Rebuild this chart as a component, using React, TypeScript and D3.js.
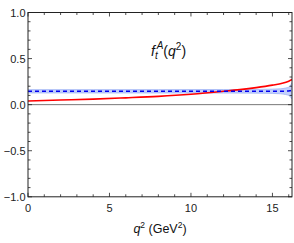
import React, { useRef, useEffect } from 'react'
import * as d3 from 'd3'

// red curve (central form factor)
const redQ2 = [0, 2, 4, 6, 8, 10, 12, 13, 14, 15, 15.6, 16, 16.2]
const redF = [0.04, 0.05, 0.06, 0.074, 0.09, 0.113, 0.145, 0.163, 0.185, 0.212, 0.232, 0.255, 0.272]

// blue dashed line with uncertainty band
const blueQ2 = [0, 4, 8, 12, 14, 15, 15.5, 15.8, 16, 16.1, 16.2]
const blueF = [0.145, 0.145, 0.145, 0.145, 0.145, 0.145, 0.146, 0.147, 0.149, 0.152, 0.155]
const blueLo = [0.127, 0.127, 0.127, 0.126, 0.125, 0.122, 0.118, 0.11, 0.1, 0.085, 0.06]
const blueHi = [0.163, 0.163, 0.163, 0.164, 0.165, 0.168, 0.172, 0.18, 0.19, 0.205, 0.24]

const xMajor = [0, 5, 10, 15]
const yMajor = [-1, -0.5, 0, 0.5, 1]
const yLabels = ['−1.0', '−0.5', '0.0', '0.5', '1.0']

export default function App() {
  const svgRef = useRef<SVGSVGElement | null>(null)
  const width = 294
  const height = 243

  useEffect(() => {
    if (!svgRef.current) return
    const svg = d3.select(svgRef.current)
    svg.selectAll('*').remove()

    const x = d3.scaleLinear().domain([0, 16.2]).range([28, 292])
    const y = d3.scaleLinear().domain([-1, 1]).range([196.8, 12.5])
    const font = 'Liberation Sans, Arial, sans-serif'
    const axisColor = '#222'

    const clipId = 'plotclip'
    svg.append('clipPath').attr('id', clipId)
      .append('rect')
      .attr('x', x(0)).attr('y', y(1))
      .attr('width', x(16.2) - x(0)).attr('height', y(-1) - y(1))

    const plot = svg.append('g').attr('clip-path', `url(#${clipId})`)

    // zero line
    plot.append('line')
      .attr('x1', x(0)).attr('x2', x(16.2))
      .attr('y1', y(0)).attr('y2', y(0))
      .attr('stroke', '#777').attr('stroke-width', 1)

    const bandData = blueQ2.map((q, i) => ({ q, lo: blueLo[i], hi: blueHi[i], c: blueF[i] }))
    const area = d3.area<any>().x(d => x(d.q)).y0(d => y(d.lo)).y1(d => y(d.hi)).curve(d3.curveMonotoneX)
    plot.append('path').datum(bandData)
      .attr('d', area)
      .attr('fill', 'rgb(185,200,250)').attr('fill-opacity', 0.85)
    const edge = (key: 'lo' | 'hi') =>
      d3.line<any>().x(d => x(d.q)).y(d => y(d[key])).curve(d3.curveMonotoneX)
    ;(['lo', 'hi'] as const).forEach(k => {
      plot.append('path').datum(bandData)
        .attr('d', edge(k))
        .attr('fill', 'none').attr('stroke', 'rgb(160,180,245)').attr('stroke-width', 0.8)
    })

    const redData = redQ2.map((q, i) => ({ q, v: redF[i] }))
    plot.append('path').datum(redData)
      .attr('d', d3.line<any>().x(d => x(d.q)).y(d => y(d.v)).curve(d3.curveMonotoneX))
      .attr('fill', 'none').attr('stroke', '#f00').attr('stroke-width', 1.6)

    plot.append('path').datum(bandData)
      .attr('d', d3.line<any>().x(d => x(d.q)).y(d => y(d.c)).curve(d3.curveMonotoneX))
      .attr('fill', 'none').attr('stroke', '#0000ee').attr('stroke-width', 1.5)
      .attr('stroke-dasharray', '4,3')

    // frame
    svg.append('rect')
      .attr('x', x(0)).attr('y', y(1))
      .attr('width', x(16.2) - x(0)).attr('height', y(-1) - y(1))
      .attr('fill', 'none').attr('stroke', axisColor).attr('stroke-width', 1)

    // ticks (inward, mirrored)
    const ticks = svg.append('g').attr('stroke', axisColor).attr('stroke-width', 0.8)
    d3.range(0, 17, 1).forEach(v => {
      const len = v % 5 === 0 ? 4 : 2.5
      ticks.append('line').attr('x1', x(v)).attr('x2', x(v)).attr('y1', y(-1)).attr('y2', y(-1) - len)
      ticks.append('line').attr('x1', x(v)).attr('x2', x(v)).attr('y1', y(1)).attr('y2', y(1) + len)
    })
    d3.range(-10, 11, 1).forEach(k => {
      const v = k / 10
      const len = k % 5 === 0 ? 4 : 2.5
      ticks.append('line').attr('x1', x(0)).attr('x2', x(0) + len).attr('y1', y(v)).attr('y2', y(v))
      ticks.append('line').attr('x1', x(16.2)).attr('x2', x(16.2) - len).attr('y1', y(v)).attr('y2', y(v))
    })

    // tick labels
    yMajor.forEach((v, i) => {
      svg.append('text')
        .attr('x', 25.5).attr('y', y(v) + 4)
        .attr('text-anchor', 'end')
        .attr('font-family', font).attr('font-size', 11).attr('fill', axisColor)
        .text(yLabels[i])
    })
    xMajor.forEach(v => {
      svg.append('text')
        .attr('x', x(v)).attr('y', 212)
        .attr('text-anchor', 'middle')
        .attr('font-family', font).attr('font-size', 11).attr('fill', axisColor)
        .text(String(v))
    })

    // axis title
    const xt = svg.append('text')
      .attr('x', 160).attr('y', 233)
      .attr('text-anchor', 'middle')
      .attr('font-family', font).attr('font-size', 12.5).attr('fill', '#111')
    xt.append('tspan').attr('font-style', 'italic').text('q')
    xt.append('tspan').attr('font-size', 8.5).attr('dy', -5).text('2')
    xt.append('tspan').attr('dy', 5).text(' (GeV')
    xt.append('tspan').attr('font-size', 8.5).attr('dy', -5).text('2')
    xt.append('tspan').attr('dy', 5).text(')')

    // inset label
    const tt = svg.append('text')
      .attr('x', 151).attr('y', 56)
      .attr('font-family', font).attr('font-size', 14).attr('fill', '#111')
    tt.append('tspan').attr('font-style', 'italic').text('f')
    tt.append('tspan').attr('font-style', 'italic').attr('font-size', 10).attr('dy', 3).text('t')
    tt.append('tspan').attr('font-style', 'italic').attr('font-size', 10).attr('dy', -10).attr('dx', -1).text('A')
    tt.append('tspan').attr('dy', 7).text('(')
    tt.append('tspan').attr('font-style', 'italic').text('q')
    tt.append('tspan').attr('font-size', 10).attr('dy', -6).text('2')
    tt.append('tspan').attr('dy', 6).text(')')
  }, [])

  return (
    <svg
      ref={svgRef}
      width={width}
      height={height}
      style={{ position: 'absolute', left: 0, top: 0, background: '#fff' }}
    />
  )
}
